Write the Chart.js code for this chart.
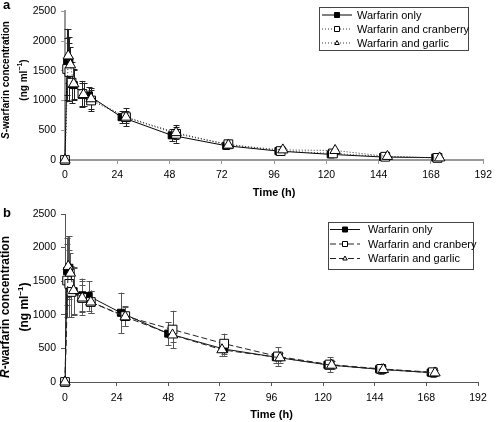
<!DOCTYPE html>
<html><head><meta charset="utf-8">
<script src="https://cdn.jsdelivr.net/npm/chart.js@4/dist/chart.umd.min.js"></script>
<style>
body{margin:0;background:#fff;width:497px;height:422px;overflow:hidden;position:relative;font-family:"Liberation Sans",Arial,sans-serif;color:#000}
.c{position:absolute;left:0}
.lab{position:absolute;font-weight:bold;font-size:13px}
.yt{position:absolute;font-weight:bold;white-space:nowrap;transform:translate(-50%,-50%) rotate(-90deg);text-align:center}
</style></head><body>
<div class="c" style="top:0;width:497px;height:200px"><canvas id="ca"></canvas></div>
<div class="c" style="top:200px;width:497px;height:222px"><canvas id="cb"></canvas></div>
<div class="lab" style="left:3px;top:-3px">a</div>
<div class="lab" style="left:3px;top:205px">b</div>
<div class="yt" style="left:15px;top:80px;font-size:10px;line-height:14px"><i>S</i>-warfarin concentration<br>(ng ml<sup style="font-size:7px">&minus;1</sup>)</div>
<div class="yt" style="left:15px;top:307px;font-size:12px;line-height:15px"><i>R</i>-warfarin concentration<br>(ng ml<sup style="font-size:8px">&minus;1</sup>)</div>
<script>
// ---------- shared ticks ----------
const xTicks = [0, 24, 48, 72, 96, 120, 144, 168, 192];
const yTicks = [0, 500, 1000, 1500, 2000, 2500];

// ---------- Panel a: S-warfarin ----------
const aOnlyT   = [0, 1, 2, 4, 8, 11, 26, 49, 74, 98, 122, 146, 170];
const aOnlyV   = [0, 1645, 1650, 1260, 1100, 1085, 720, 415, 240, 150, 95, 50, 40];
const aOnlyE   = [0, 560, 420, 250, 200, 140, 100, 100, 60, 30, 35, 20, 15];
const aCranT   = [0, 1, 2, 3, 8, 12, 28, 51, 75, 99, 123, 147, 171];
const aCranV   = [0, 1530, 1480, 1300, 1110, 1000, 720, 440, 265, 150, 110, 55, 35];
const aCranE   = [0, 520, 480, 350, 220, 180, 150, 150, 60, 30, 40, 20, 15];
const aGarT    = [0, 1.5, 2.5, 4, 8.5, 12, 28, 51, 75, 100, 124, 148, 172];
const aGarV    = [0, 1750, 1600, 1280, 1100, 1030, 720, 460, 250, 170, 160, 60, 35];
const aGarE    = [0, 450, 300, 250, 200, 180, 100, 100, 50, 30, 30, 20, 15];

// ---------- Panel b: R-warfarin ----------
const bOnlyT   = [0, 1, 2, 4, 8, 11, 26, 48, 74, 98, 122, 146, 170];
const bOnlyV   = [0, 1650, 1700, 1350, 1290, 1280, 1030, 720, 490, 370, 255, 190, 140];
const bOnlyE   = [0, 500, 470, 350, 250, 220, 300, 170, 100, 80, 60, 50, 40];
const bCranT   = [0, 1, 2, 3, 8, 12, 28, 50, 74, 99, 123, 147, 171];
const bCranV   = [0, 1510, 1460, 1340, 1250, 1190, 980, 780, 570, 380, 260, 195, 145];
const bCranE   = [0, 550, 500, 380, 250, 170, 150, 280, 150, 140, 110, 80, 70];
const bGarT    = [0, 1.5, 2.5, 4, 8, 12, 28, 50, 73, 100, 124, 148, 172];
const bGarV    = [0, 1720, 1620, 1360, 1250, 1190, 970, 700, 480, 360, 250, 185, 135];
const bGarE    = [0, 450, 300, 350, 200, 170, 140, 100, 90, 70, 60, 50, 45];

const aNames = ['Warfarin only', 'Warfarin and cranberry', 'Warfarin and garlic'];
const bNames = ['Warfarin only', 'Warfarin and cranbery', 'Warfarin and garlic'];

const FONT = '"Liberation Sans", Arial, sans-serif';
const pts = (t, v) => t.map((x, i) => ({x, y: v[i]}));

function ds(label, t, v, e, style, dash, lineColor, order) {
  const filled = style === 'filled';
  return {
    label, data: pts(t, v), err: e, order, clip: false,
    borderColor: lineColor, borderWidth: 1, borderDash: dash,
    pointStyle: style === 'tri' ? 'triangle' : 'rect',
    pointRadius: filled ? 5 : (style === 'tri' ? 6 : 6.2),
    pointBackgroundColor: filled ? '#000' : '#fff',
    pointBorderColor: '#000', pointBorderWidth: 1,
    tension: 0, fill: false
  };
}

const errPlugin = {
  id: 'errbars',
  beforeDatasetsDraw(chart, args, opts) {
    const ctx = chart.ctx, xs = chart.scales.x, ys = chart.scales.y;
    ctx.save();
    ctx.strokeStyle = opts.color || '#000';
    ctx.lineWidth = 1;
    chart.data.datasets.forEach(d => {
      d.data.forEach((p, i) => {
        const e = d.err[i];
        if (!e) return;
        const x = Math.round(xs.getPixelForValue(p.x)) + 0.5;
        const y1 = ys.getPixelForValue(p.y + e), y2 = ys.getPixelForValue(Math.max(0, p.y - e));
        ctx.beginPath();
        ctx.moveTo(x, y1); ctx.lineTo(x, y2);
        ctx.moveTo(x - 3, Math.round(y1) + 0.5); ctx.lineTo(x + 3, Math.round(y1) + 0.5);
        ctx.moveTo(x - 3, Math.round(y2) + 0.5); ctx.lineTo(x + 3, Math.round(y2) + 0.5);
        ctx.stroke();
      });
    });
    ctx.restore();
  }
};

function drawMarker(ctx, d, x, y, r) {
  ctx.save();
  ctx.setLineDash([]);
  ctx.fillStyle = d.pointBackgroundColor;
  ctx.strokeStyle = '#000';
  ctx.lineWidth = 1;
  ctx.beginPath();
  if (d.pointStyle === 'triangle') {
    ctx.moveTo(x, y - r); ctx.lineTo(x + r * 0.9, y + r * 0.6); ctx.lineTo(x - r * 0.9, y + r * 0.6); ctx.closePath();
  } else {
    ctx.rect(x - r, y - r, 2 * r, 2 * r);
  }
  ctx.fill(); ctx.stroke();
  ctx.restore();
}

const legendPlugin = {
  id: 'boxLegend',
  afterDraw(chart, args, o) {
    const ctx = chart.ctx;
    ctx.save();
    ctx.strokeStyle = '#444'; ctx.lineWidth = 1;
    ctx.strokeRect(o.x + 0.5, o.y + 0.5, o.w, o.h);
    ctx.font = '11px ' + FONT;
    ctx.fillStyle = '#000';
    ctx.textBaseline = 'middle';
    chart.data.datasets.forEach((d, i) => {
      const y = o.rows[i];
      ctx.strokeStyle = d.borderColor;
      ctx.setLineDash(d.borderDash || []);
      ctx.beginPath(); ctx.moveTo(o.lx0, y + 0.5); ctx.lineTo(o.lx1, y + 0.5); ctx.stroke();
      drawMarker(ctx, d, (o.lx0 + o.lx1) / 2, y + 0.5, 2.5);
      ctx.setLineDash([]);
      ctx.fillText(d.label, o.tx, y + 1);
    });
    ctx.restore();
  }
};

function scales(axisColor, axisWidth, yWidth, tickPad) {
  const tickFont = {family: FONT, size: 10.5};
  return {
    x: {
      type: 'linear', min: 0, max: 192,
      afterBuildTicks: s => { s.ticks = xTicks.map(v => ({value: v})); },
      grid: {display: true, drawOnChartArea: false, drawTicks: true, tickLength: 4, color: axisColor},
      border: {display: true, color: axisColor, width: axisWidth},
      ticks: {font: tickFont, color: '#000', padding: tickPad, maxRotation: 0, callback: v => String(v)},
      title: {display: true, text: 'Time (h)', font: {family: FONT, size: 11, weight: 'bold'}, color: '#000', padding: {top: 0, bottom: 0}},
      afterFit: s => { s.height = 40; }
    },
    y: {
      type: 'linear', min: 0, max: 2500,
      afterBuildTicks: s => { s.ticks = yTicks.map(v => ({value: v})); },
      grid: {display: true, drawOnChartArea: false, drawTicks: true, tickLength: 4, color: axisColor},
      border: {display: true, color: axisColor, width: axisWidth},
      ticks: {font: tickFont, color: '#000', padding: 5, callback: v => String(v)},
      afterFit: s => { s.width = yWidth; }
    }
  };
}

function makeChart(id, sets, scaleCfg, padding, legendOpts, errColor) {
  return new Chart(document.getElementById(id), {
    type: 'line',
    data: {datasets: sets},
    options: {
      responsive: true, maintainAspectRatio: false, animation: false,
      layout: {padding},
      scales: scaleCfg,
      plugins: {
        legend: {display: false}, tooltip: {enabled: false},
        boxLegend: legendOpts,
        errbars: {color: errColor}
      }
    },
    plugins: [errPlugin, legendPlugin]
  });
}

makeChart('ca', [
  ds(aNames[0], aOnlyT, aOnlyV, aOnlyE, 'filled', [], '#000', 2),
  ds(aNames[1], aCranT, aCranV, aCranE, 'sq', [1, 2], '#333', 1),
  ds(aNames[2], aGarT, aGarV, aGarE, 'tri', [1, 2], '#333', 0)
], scales('#999', 2, 65, 5), {top: 8, right: 12, bottom: 0, left: 0},
  {x: 319, y: 7, w: 149, h: 43, rows: [14.5, 28.5, 42.5], lx0: 322, lx1: 352, tx: 357}, '#222');

makeChart('cb', [
  ds(bNames[0], bOnlyT, bOnlyV, bOnlyE, 'filled', [], '#111', 2),
  ds(bNames[1], bCranT, bCranV, bCranE, 'sq', [6, 3], '#222', 1),
  ds(bNames[2], bGarT, bGarV, bGarE, 'tri', [6, 3], '#222', 0)
], scales('#555', 1, 65, 6), {top: 14, right: 19, bottom: 0, left: 0},
  {x: 328, y: 22, w: 145, h: 47, rows: [29, 43.5, 58], lx0: 330, lx1: 360, tx: 368}, '#555');
</script>
</body></html>
